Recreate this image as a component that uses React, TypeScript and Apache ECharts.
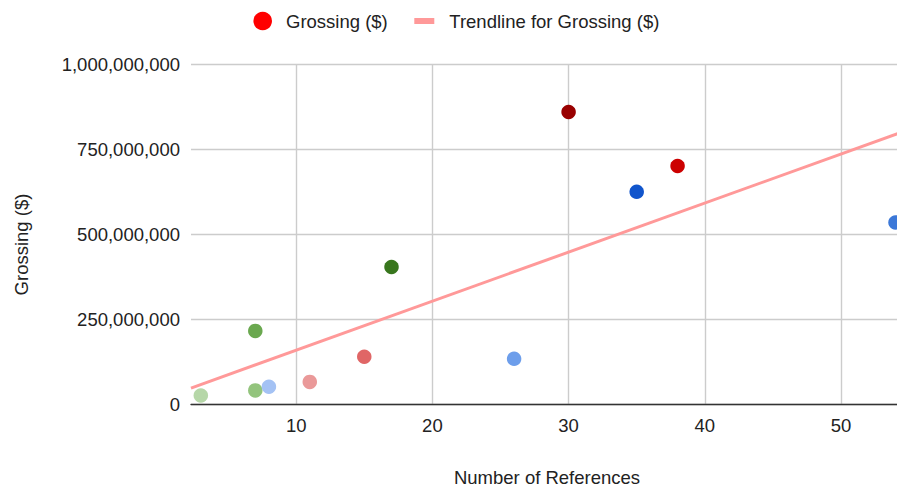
import React, { useEffect, useRef } from 'react';
import * as echarts from 'echarts';

// Number of references per film and its gross takings
const references = [3, 7, 7, 8, 11, 15, 17, 26, 30, 35, 38, 54];
const grossing = [
  25e6, 215e6, 40e6, 51e6, 65e6, 139e6, 403e6, 133e6, 859e6, 624e6, 700e6, 534e6,
];
const pointColors = [
  '#b6d7a8', '#6aa84f', '#93c47d', '#a4c2f4', '#ea9999', '#e06666',
  '#38761d', '#6d9eeb', '#990000', '#1155cc', '#cc0000', '#3c78d8',
];
const xRange = [2.28, 54.55];
const yTicks = [0, 250e6, 500e6, 750e6, 1e9];

const seriesName = 'Grossing ($)';
const trendName = 'Trendline for Grossing ($)';
const xTitle = 'Number of References';
const yTitle = 'Grossing ($)';

const FONT = '"Liberation Sans", Arial, sans-serif';
const FS = 18.5;
const TXT = '#222222';
const TREND = '#ff9999';

// Least-squares fit of grossing against references
function linearFit(xs: number[], ys: number[]) {
  const n = xs.length;
  const mx = xs.reduce((a, b) => a + b, 0) / n;
  const my = ys.reduce((a, b) => a + b, 0) / n;
  let sxy = 0;
  let sxx = 0;
  for (let i = 0; i < n; i++) {
    sxy += (xs[i] - mx) * (ys[i] - my);
    sxx += (xs[i] - mx) * (xs[i] - mx);
  }
  const slope = sxy / sxx;
  return { slope, intercept: my - slope * mx };
}

export default function App() {
  const ref = useRef<HTMLDivElement>(null);

  useEffect(() => {
    if (!ref.current) return;
    const chart = echarts.init(ref.current, undefined, { renderer: 'svg' });
    const fit = linearFit(references, grossing);
    const trend = xRange.map((x) => [x, fit.intercept + fit.slope * x]);

    chart.setOption({
      animation: false,
      backgroundColor: '#ffffff',
      textStyle: { fontFamily: FONT },
      grid: {
        left: 191,
        top: 64,
        width: 712,
        height: 340,
        containLabel: false,
        outerBoundsMode: 'none',
      },
      xAxis: {
        type: 'value',
        min: xRange[0],
        max: xRange[1],
        name: xTitle,
        nameLocation: 'middle',
        nameGap: 64,
        nameTextStyle: { fontFamily: FONT, fontSize: FS, color: TXT },
        axisLine: { show: true, onZero: false, lineStyle: { color: '#333333', width: 1.4 } },
        axisTick: { show: false },
        axisLabel: {
          showMinLabel: false,
          showMaxLabel: false,
          margin: 12,
          fontFamily: FONT,
          fontSize: FS,
          color: TXT,
        },
        splitLine: {
          show: true,
          showMinLine: false,
          showMaxLine: false,
          lineStyle: { color: '#cccccc', width: 1.4 },
        },
      },
      yAxis: {
        type: 'value',
        min: yTicks[0],
        max: yTicks[yTicks.length - 1],
        interval: yTicks[1] - yTicks[0],
        axisLine: { show: false },
        axisTick: { show: false },
        axisLabel: {
          margin: 11,
          fontFamily: FONT,
          fontSize: FS,
          color: TXT,
          formatter: (v: number) => v.toLocaleString('en-US'),
        },
        splitLine: { show: true, lineStyle: { color: '#cccccc', width: 1.4 } },
      },
      graphic: [
        // y-axis title
        {
          type: 'text',
          x: 21,
          y: 244.5,
          rotation: Math.PI / 2,
          style: {
            text: yTitle,
            fill: TXT,
            font: `${FS}px ${FONT}`,
            align: 'center',
            verticalAlign: 'middle',
          },
        },
        // legend
        {
          type: 'circle',
          shape: { cx: 262.7, cy: 21, r: 9.3 },
          style: { fill: '#ff0000' },
        },
        {
          type: 'text',
          x: 286,
          y: 21,
          style: {
            text: seriesName,
            fill: TXT,
            font: `${FS}px ${FONT}`,
            align: 'left',
            verticalAlign: 'middle',
          },
        },
        {
          type: 'rect',
          shape: { x: 414.3, y: 18, width: 20, height: 6 },
          style: { fill: TREND },
        },
        {
          type: 'text',
          x: 449.3,
          y: 21,
          style: {
            text: trendName,
            fill: TXT,
            font: `${FS}px ${FONT}`,
            align: 'left',
            verticalAlign: 'middle',
          },
        },
      ],
      series: [
        {
          name: trendName,
          type: 'line',
          data: trend,
          showSymbol: false,
          symbol: 'none',
          lineStyle: { color: TREND, width: 3 },
          z: 1,
        },
        {
          name: seriesName,
          type: 'scatter',
          symbol: 'circle',
          symbolSize: 14.5,
          clip: false,
          data: references.map((x, i) => ({
            value: [x, grossing[i]],
            itemStyle: { color: pointColors[i], opacity: 1 },
          })),
          z: 3,
        },
      ],
    });

    return () => chart.dispose();
  }, []);

  return (
    <div
      ref={ref}
      style={{ position: 'absolute', left: 0, top: 0, width: 897, height: 487 }}
    />
  );
}
